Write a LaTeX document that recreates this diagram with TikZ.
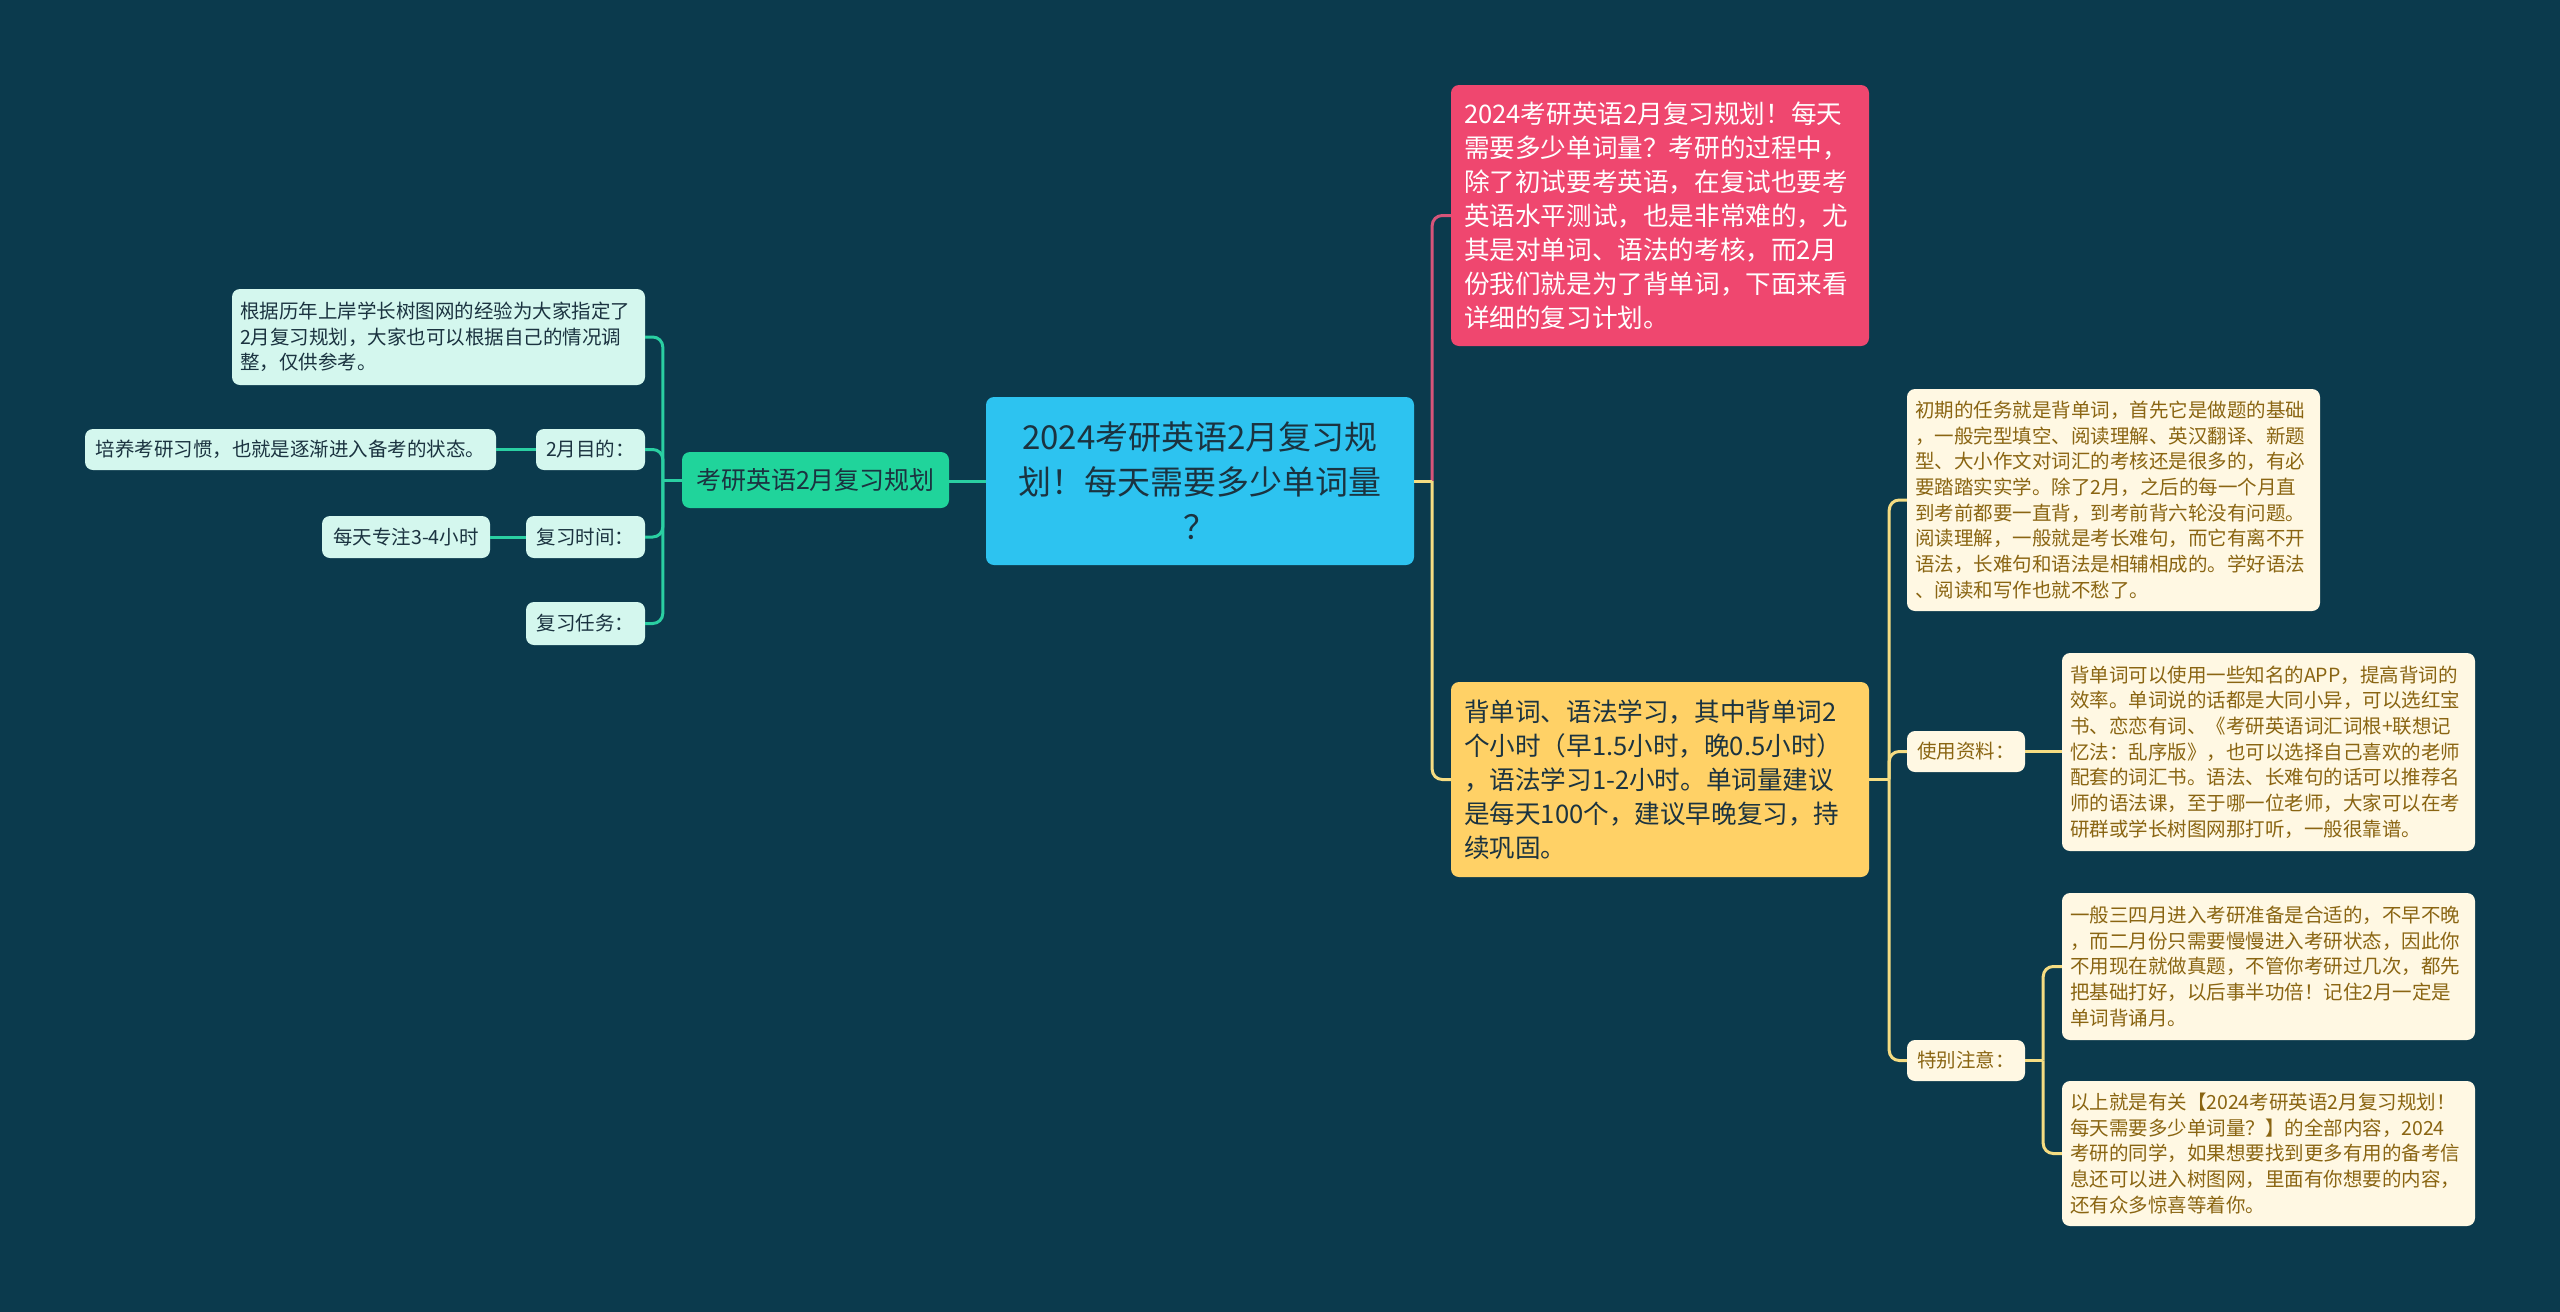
\documentclass[tikz,border=0pt]{standalone}
\usepackage{fontspec}
\setmainfont{Noto Sans CJK SC}
\usetikzlibrary{positioning,calc}

\definecolor{bgc}{HTML}{0B3A4D}
\definecolor{rootc}{HTML}{2DC3F0}
\definecolor{inkc}{HTML}{1B3340}
\definecolor{pinkc}{HTML}{EF476F}
\definecolor{yelc}{HTML}{FFD166}
\definecolor{greenc}{HTML}{20D49B}
\definecolor{mintc}{HTML}{D4F7EE}
\definecolor{creamc}{HTML}{FFF8E3}
\definecolor{brownc}{HTML}{8A6512}
\definecolor{greenln}{HTML}{2ACFA2}
\definecolor{yelln}{HTML}{F5DC82}
\definecolor{pinkln}{HTML}{D65479}

\begin{document}
\begin{tikzpicture}[x=1pt, y=-1pt,
  card/.style={rounded corners=8pt, inner sep=0pt, align=left},
  topic/.style={card, fill=rootc, text=inkc, align=center, font=\fontsize{33}{45}\selectfont},
  bigleaf/.style={card, font=\fontsize{25.6}{34}\selectfont},
  plan/.style={card, fill=greenc, text=inkc, font=\fontsize{25}{30}\selectfont},
  mint/.style={card, fill=mintc, text=inkc, font=\fontsize{19.5}{25.7}\selectfont},
  cream/.style={card, fill=creamc, text=brownc, font=\fontsize{19.5}{25.7}\selectfont},
  link/.style={line width=3pt, rounded corners=10pt}]
  \fill[bgc] (0,0) rectangle (2560,1312);

  \node[topic, minimum width=428pt, minimum height=168pt] (topic) at (1200,481)
    {2024考研英语2月复习规\\划！每天需要多少单词量\\？};

  \node[bigleaf, fill=pinkc, text=white, minimum width=418pt, minimum height=261pt, text width=392pt] (intro) at (1660,215.5)
    {2024考研英语2月复习规划！每天\\需要多少单词量？考研的过程中，\\除了初试要考英语，在复试也要考\\英语水平测试，也是非常难的，尤\\其是对单词、语法的考核，而2月\\份我们就是为了背单词，下面来看\\详细的复习计划。};
  \node[bigleaf, fill=yelc, text=inkc, minimum width=418pt, minimum height=195pt, text width=392pt] (study) at (1660,779.5)
    {背单词、语法学习，其中背单词2\\个小时（早1.5小时，晚0.5小时）\\，语法学习1-2小时。单词量建议\\是每天100个，建议早晚复习，持\\续巩固。};

  \node[plan, minimum width=267pt, minimum height=56pt] (plan) at (815.5,480) {考研英语2月复习规划};
  \node[mint, minimum width=413pt, minimum height=96pt, text width=397pt] (basis) at (438.5,337)
    {根据历年上岸学长树图网的经验为大家指定了\\2月复习规划，大家也可以根据自己的情况调\\整，仅供参考。};
  \node[mint, minimum width=109pt, minimum height=41pt] (goal) at (590.5,449.5) {2月目的：};
  \node[mint, minimum width=411pt, minimum height=41pt] (goaltxt) at (290.5,449.5) {培养考研习惯，也就是逐渐进入备考的状态。};
  \node[mint, minimum width=119pt, minimum height=42pt] (time) at (585.5,537) {复习时间：};
  \node[mint, minimum width=168pt, minimum height=42pt] (timetxt) at (406,537) {每天专注3-4小时};
  \node[mint, minimum width=119pt, minimum height=43pt] (task) at (585.5,623.5) {复习任务：};

  \node[cream, minimum width=413pt, minimum height=222pt, text width=397pt] (early) at (2113.5,500)
    {初期的任务就是背单词，首先它是做题的基础\\，一般完型填空、阅读理解、英汉翻译、新题\\型、大小作文对词汇的考核还是很多的，有必\\要踏踏实实学。除了2月，之后的每一个月直\\到考前都要一直背，到考前背六轮没有问题。\\阅读理解，一般就是考长难句，而它有离不开\\语法，长难句和语法是相辅相成的。学好语法\\、阅读和写作也就不愁了。};
  \node[cream, minimum width=118pt, minimum height=41pt] (res) at (1966,751.5) {使用资料：};
  \node[cream, minimum width=413pt, minimum height=198pt, text width=397pt] (restxt) at (2268.5,752)
    {背单词可以使用一些知名的APP，提高背词的\\效率。单词说的话都是大同小异，可以选红宝\\书、恋恋有词、《考研英语词汇词根+联想记\\忆法：乱序版》，也可以选择自己喜欢的老师\\配套的词汇书。语法、长难句的话可以推荐名\\师的语法课，至于哪一位老师，大家可以在考\\研群或学长树图网那打听，一般很靠谱。};
  \node[cream, minimum width=118pt, minimum height=41pt] (note) at (1966,1060.5) {特别注意：};
  \node[cream, minimum width=413pt, minimum height=147pt, text width=397pt] (notea) at (2268.5,966.5)
    {一般三四月进入考研准备是合适的，不早不晚\\，而二月份只需要慢慢进入考研状态，因此你\\不用现在就做真题，不管你考研过几次，都先\\把基础打好，以后事半功倍！记住2月一定是\\单词背诵月。};
  \node[cream, minimum width=413pt, minimum height=145pt, text width=397pt] (noteb) at (2268.5,1153.5)
    {以上就是有关【2024考研英语2月复习规划！\\每天需要多少单词量？】的全部内容，2024\\考研的同学，如果想要找到更多有用的备考信\\息还可以进入树图网，里面有你想要的内容，\\还有众多惊喜等着你。};

  \draw[link, greenln] (topic.west) -- (topic.west -| plan.east);
  \coordinate (pj) at ($(plan.west)+(-19,0)$);
  \draw[link, greenln] (plan.west) -- (pj);
  \foreach \c in {basis,goal,time,task}
    \draw[link, greenln] (pj) |- (\c.east);
  \draw[link, greenln] (goal.west) -- (goaltxt.east);
  \draw[link, greenln] (time.west) -- (timetxt.east);

  \coordinate (tj) at ($(topic.east)+(18,0)$);
  \draw[link, pinkln] (tj) |- (intro.west);
  \draw[link, yelln] (tj) |- (study.west);
  \draw[link, yelln] (topic.east) -- (tj);

  \coordinate (sj) at ($(study.east)+(20,0)$);
  \draw[link, yelln] (study.east) -- (sj);
  \foreach \c in {early,res,note}
    \draw[link, yelln] (sj) |- (\c.west);
  \draw[link, yelln] (res.east) -- (res.east -| restxt.west);
  \coordinate (nj) at ($(note.east)+(18,0)$);
  \draw[link, yelln] (note.east) -- (nj);
  \foreach \c in {notea,noteb}
    \draw[link, yelln] (nj) |- (\c.west);
\end{tikzpicture}
\end{document}
